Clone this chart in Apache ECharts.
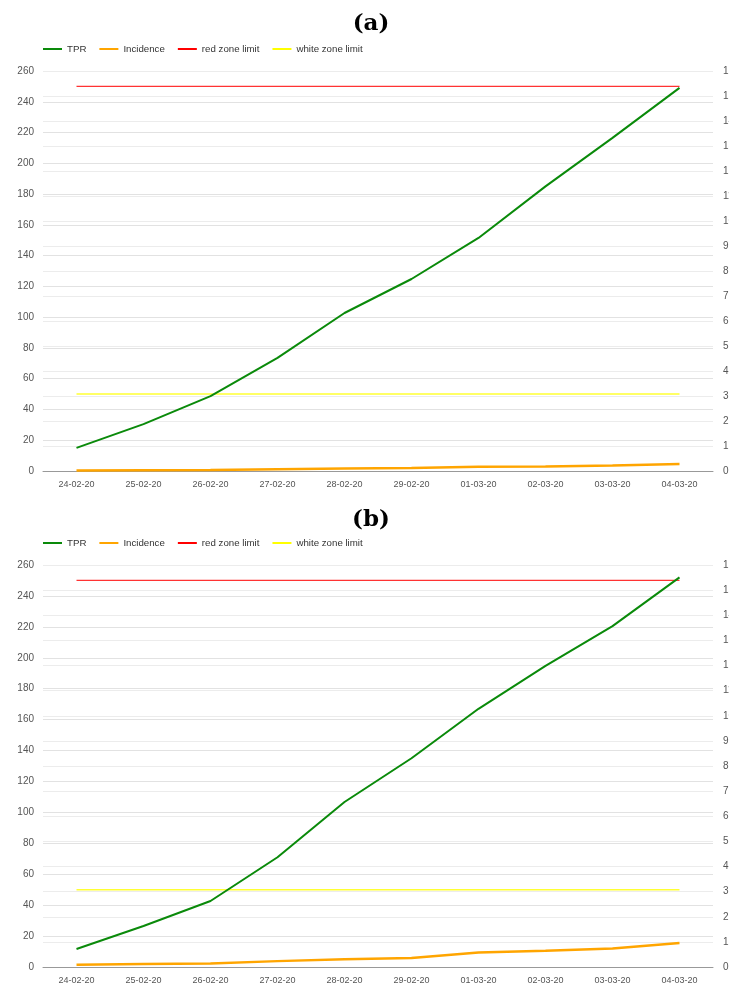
<!DOCTYPE html>
<html>
<head>
<meta charset="utf-8">
<script src="https://cdn.jsdelivr.net/npm/echarts@6/dist/echarts.min.js"></script>
<style>html,body{margin:0;padding:0;background:#fff;overflow:hidden}#c{width:729px;height:984px}</style>
</head>
<body>
<div id="c"></div>
<script>
const categories = ['24-02-20','25-02-20','26-02-20','27-02-20','28-02-20','29-02-20','01-03-20','02-03-20','03-03-20','04-03-20'];
const tprA = [15, 30.5, 48.7, 73.5, 102.7, 124.8, 151.5, 185, 216.5, 249];
const incA = [0.3, 0.5, 0.7, 1.2, 1.6, 2.0, 2.7, 3.0, 3.6, 4.5];
const tprB = [11.6, 26.5, 42.7, 71, 106.7, 135, 167, 194.7, 220.5, 252];
const incB = [1.4, 2.0, 2.2, 3.8, 5.0, 5.8, 9.4, 10.5, 12, 15.5];
const redLimit = [250,250,250,250,250,250,250,250,250,250];
const whiteLimit = [50,50,50,50,50,50,50,50,50,50];
const titles = ['(a)', '(b)'];
const leftMax = 260, leftStep = 20, rightMax = 16, rightStep = 1;

const font = 'Liberation Sans, Arial, sans-serif';
const tops = [71, 565];
const heights = [400, 402];
const grids = [], xAxes = [], yAxes = [], series = [], legends = [], titleArr = [];
const panels = [[tprA, incA], [tprB, incB]];
panels.forEach((p, i) => {
  grids.push({left: 43, right: 16, top: tops[i], height: heights[i], containLabel: false, outerBoundsMode: 'none'});
  titleArr.push({text: titles[i], left: 366, top: tops[i] - 63 + i * 2, textAlign: 'center',
    textStyle: {fontFamily: 'DejaVu Serif, Liberation Serif, serif', fontWeight: 'bold', fontSize: 23, color: '#000'}});
  legends.push({left: 38, top: tops[i] - 32, itemWidth: 19, itemHeight: 2, itemGap: 13, icon: 'rect',
    textStyle: {fontFamily: font, fontSize: 9.7, color: '#333'},
    data: ['TPR','Incidence','red zone limit','white zone limit']});
  xAxes.push({type: 'category', gridIndex: i, data: categories, boundaryGap: true,
    axisLine: {lineStyle: {color: '#999', width: 1}}, axisTick: {show: false},
    axisLabel: {fontFamily: font, fontSize: 9, color: '#555', margin: 9, interval: 0}});
  yAxes.push({type: 'value', gridIndex: i, min: 0, max: leftMax, interval: leftStep, position: 'left',
    axisLine: {show: false}, axisTick: {show: false},
    axisLabel: {fontFamily: font, fontSize: 10, color: '#555', margin: 9},
    splitLine: {lineStyle: {color: '#e2e2e2', width: 1}}});
  yAxes.push({type: 'value', gridIndex: i, min: 0, max: rightMax, interval: rightStep, position: 'right',
    axisLine: {show: false}, axisTick: {show: false},
    axisLabel: {fontFamily: font, fontSize: 10, color: '#555', margin: 10, align: 'left'},
    splitLine: {lineStyle: {color: '#ececec', width: 1}}});
  const yi = i * 2;
  series.push({name: 'TPR', type: 'line', xAxisIndex: i, yAxisIndex: yi, data: p[0], symbol: 'none',
    lineStyle: {color: '#0a8a0a', width: 2}, itemStyle: {color: '#0a8a0a'}, z: 5});
  series.push({name: 'Incidence', type: 'line', xAxisIndex: i, yAxisIndex: yi, data: p[1], symbol: 'none',
    lineStyle: {color: '#ffa500', width: 2.5}, itemStyle: {color: '#ffa500'}, z: 4});
  series.push({name: 'red zone limit', type: 'line', xAxisIndex: i, yAxisIndex: yi, data: redLimit, symbol: 'none',
    lineStyle: {color: '#ff3333', width: 1.2}, itemStyle: {color: '#ff0000'}, z: 3});
  series.push({name: 'white zone limit', type: 'line', xAxisIndex: i, yAxisIndex: yi, data: whiteLimit, symbol: 'none',
    lineStyle: {color: '#ffff33', width: 1.5}, itemStyle: {color: '#ffff00'}, z: 3});
});

const chart = echarts.init(document.getElementById('c'), null, {renderer: 'canvas'});
chart.setOption({
  animation: false,
  backgroundColor: '#fff',
  title: titleArr,
  legend: legends,
  grid: grids,
  xAxis: xAxes,
  yAxis: yAxes,
  series: series
});
</script>
</body>
</html>
